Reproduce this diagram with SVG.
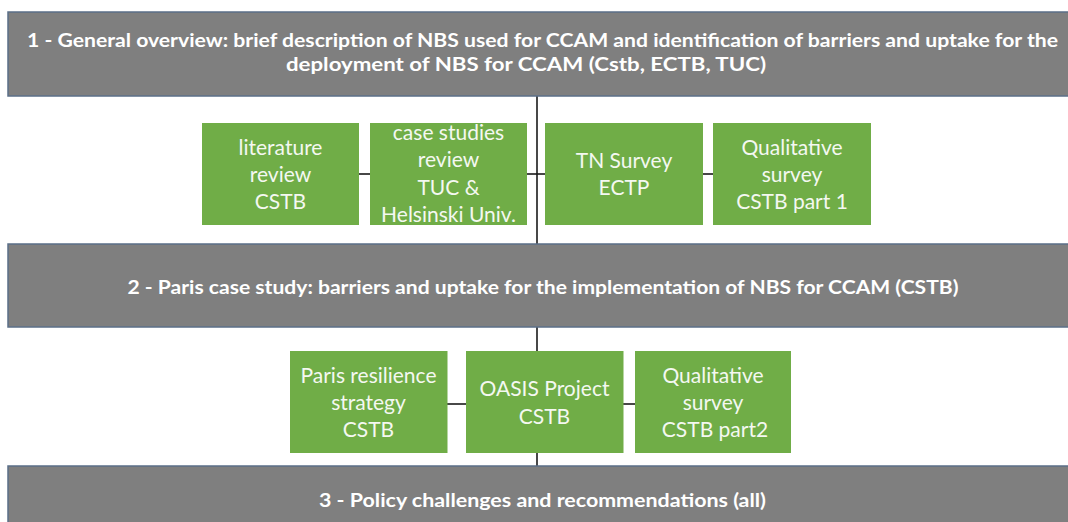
<svg xmlns="http://www.w3.org/2000/svg" width="1068" height="522" viewBox="0 0 1068 522">
  <style>
    .band { fill: #7f7f7f; stroke: #5b6f88; stroke-width: 1.5; }
    .task { fill: #70ad47; }
    .head { font-family: Lato, "Open Sans", "Liberation Sans", sans-serif; font-weight: bold; font-size: 18px; fill: #ffffff; }
    .lbl { font-family: Lato, "Open Sans", "Liberation Sans", sans-serif; font-size: 21px; fill: #f4f8f1; text-anchor: middle; }
    .wire { stroke: #1a1a1a; stroke-width: 1.6; fill: none; }
  </style>
  <rect width="1068" height="522" fill="#ffffff"/>

  <!-- connectors sit underneath the boxes -->
  <g id="connectors">
    <line class="wire" x1="537" y1="96" x2="537" y2="244"/>
    <line class="wire" x1="359" y1="174" x2="370" y2="174"/>
    <line class="wire" x1="527" y1="174" x2="545" y2="174"/>
    <line class="wire" x1="703" y1="174" x2="713" y2="174"/>
    <line class="wire" x1="537" y1="327" x2="537" y2="466"/>
    <line class="wire" x1="447" y1="404" x2="466" y2="404"/>
    <line class="wire" x1="623" y1="404" x2="635" y2="404"/>
  </g>

  <!-- phase 1 -->
  <g id="phase1">
    <rect class="band" x="8" y="12" width="1070" height="84"/>
    <text class="head" x="27" y="47" textLength="1031" lengthAdjust="spacingAndGlyphs">1 - General overview: brief description of NBS used for CCAM and identification of barriers and uptake for the</text>
    <text class="head" x="286" y="71" textLength="480" lengthAdjust="spacingAndGlyphs">deployment of NBS for CCAM (Cstb, ECTB, TUC)</text>
  </g>

  <g id="literature">
    <rect class="task" x="202" y="123" width="157" height="102"/>
    <text class="lbl" x="280.5" y="155">literature</text>
    <text class="lbl" x="280.5" y="182">review</text>
    <text class="lbl" x="280.5" y="208.5">CSTB</text>
  </g>

  <g id="casestudies">
    <rect class="task" x="370" y="123" width="157" height="102"/>
    <text class="lbl" x="448.5" y="140">case studies</text>
    <text class="lbl" x="448.5" y="167">review</text>
    <text class="lbl" x="448.5" y="195">TUC &amp;</text>
    <text class="lbl" x="448.5" y="222">Helsinski Univ.</text>
  </g>

  <g id="tnsurvey">
    <rect class="task" x="545" y="123" width="158" height="102"/>
    <text class="lbl" x="624" y="168">TN Survey</text>
    <text class="lbl" x="624" y="195">ECTP</text>
  </g>

  <g id="qualitative1">
    <rect class="task" x="713" y="123" width="158" height="102"/>
    <text class="lbl" x="792" y="155">Qualitative</text>
    <text class="lbl" x="792" y="182">survey</text>
    <text class="lbl" x="792" y="209">CSTB part 1</text>
  </g>

  <!-- phase 2 -->
  <g id="phase2">
    <rect class="band" x="8" y="244" width="1070" height="83"/>
    <text class="head" x="127.5" y="293.5" textLength="831" lengthAdjust="spacingAndGlyphs">2 - Paris case study: barriers and uptake for the implementation of NBS for CCAM (CSTB)</text>
  </g>

  <g id="resilience">
    <rect class="task" x="290" y="351" width="157.5" height="102"/>
    <text class="lbl" x="368.5" y="383">Paris resilience</text>
    <text class="lbl" x="368.5" y="410">strategy</text>
    <text class="lbl" x="368.5" y="437">CSTB</text>
  </g>

  <g id="oasis">
    <rect class="task" x="466" y="351" width="157.5" height="102"/>
    <text class="lbl" x="544.5" y="396">OASIS Project</text>
    <text class="lbl" x="544.5" y="423.5">CSTB</text>
  </g>

  <g id="qualitative2">
    <rect class="task" x="635" y="351" width="156" height="102"/>
    <text class="lbl" x="713" y="383">Qualitative</text>
    <text class="lbl" x="713" y="410">survey</text>
    <text class="lbl" x="715" y="437">CSTB part2</text>
  </g>

  <!-- phase 3 -->
  <g id="phase3">
    <rect class="band" x="8" y="466" width="1070" height="70"/>
    <text class="head" x="319" y="507" textLength="447" lengthAdjust="spacingAndGlyphs">3 - Policy challenges and recommendations (all)</text>
  </g>
</svg>
